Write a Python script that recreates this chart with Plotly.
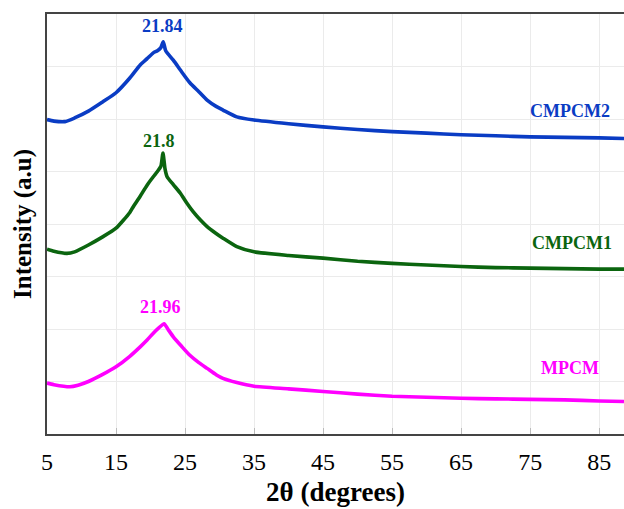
import plotly.graph_objects as go

# --- data ---
two_theta_cmpcm2 = [5, 6, 7.6, 9, 11, 13, 15, 17, 18.5, 19.5, 20.4, 21.0, 21.5, 21.84, 22.2, 23.3, 24.5,
                    25.7, 27, 28.2, 29.5, 30.5, 32.5, 35, 40, 45, 50, 55, 60, 65, 70, 75, 80, 85, 88.6]
int_cmpcm2 = [5.99, 5.96, 5.95, 6.02, 6.15, 6.32, 6.50, 6.78, 7.03, 7.15, 7.26, 7.30, 7.36, 7.47, 7.30, 7.12, 6.90,
              6.69, 6.52, 6.36, 6.24, 6.17, 6.04, 5.98, 5.91, 5.85, 5.80, 5.76, 5.73, 5.70, 5.68, 5.66, 5.65, 5.64, 5.63]

two_theta_cmpcm1 = [5, 6, 7.9, 9, 11, 13, 15, 17, 17.5, 18.5, 19.5, 20.4, 21.0, 21.5, 21.8, 22.1, 22.4, 23.3,
                    24.3, 25.2, 26.2, 27.2, 28.2, 29.5, 30.5, 32.5, 35, 40, 45, 50, 55, 60, 65, 70, 75, 80, 85, 88.6]
int_cmpcm1 = [3.52, 3.48, 3.44, 3.47, 3.60, 3.75, 3.92, 4.22, 4.33, 4.53, 4.74, 4.90, 5.00, 5.10, 5.35, 5.05, 4.90, 4.75,
              4.59, 4.41, 4.23, 4.08, 3.95, 3.82, 3.73, 3.57, 3.47, 3.40, 3.35, 3.29, 3.25, 3.22, 3.19, 3.17, 3.16, 3.15, 3.14, 3.14]

two_theta_mpcm = [5, 6, 8.3, 9.5, 11, 13, 15, 17, 18.5, 19.5, 20.4, 21.2, 21.96, 22.5, 23.3, 24.5, 25.7, 27,
                  28.2, 29.5, 30.5, 32.5, 35, 40, 45, 50, 55, 60, 65, 70, 75, 80, 85, 88.6]
int_mpcm = [0.97, 0.94, 0.90, 0.93, 1.00, 1.13, 1.28, 1.48, 1.66, 1.79, 1.92, 2.02, 2.10, 2.00, 1.85, 1.67, 1.50, 1.36,
            1.25, 1.13, 1.06, 0.98, 0.91, 0.86, 0.81, 0.76, 0.72, 0.70, 0.68, 0.67, 0.66, 0.65, 0.63, 0.62]

series_names = ["CMPCM2", "CMPCM1", "MPCM"]
series_colors = ["#0a3cc4", "#0b650f", "#ff00ff"]
peak_labels = ["21.84", "21.8", "21.96"]
peak_pos = [(21.8, 7.78), (21.16, 5.58), (21.5, 2.41)]
name_pos = [(80.8, 6.15), (81.1, 3.63), (80.8, 1.25)]
x_ticks = [5, 15, 25, 35, 45, 55, 65, 75, 85]

FONT = "Liberation Serif, Times New Roman, serif"

xs = [two_theta_cmpcm2, two_theta_cmpcm1, two_theta_mpcm]
ys = [int_cmpcm2, int_cmpcm1, int_mpcm]

fig = go.Figure()
for x, y, n, c in zip(xs, ys, series_names, series_colors):
    fig.add_trace(go.Scatter(x=x, y=y, mode="lines", name=n,
                             line=dict(color=c, width=3.6, shape="spline", smoothing=0.6),
                             showlegend=False))

for lab, (px, py), c in zip(peak_labels, peak_pos, series_colors):
    fig.add_annotation(x=px, y=py, text="<b>%s</b>" % lab, showarrow=False,
                       font=dict(family=FONT, size=18, color=c))
for n, (px, py), c in zip(series_names, name_pos, series_colors):
    fig.add_annotation(x=px, y=py, text="<b>%s</b>" % n, showarrow=False,
                       font=dict(family=FONT, size=18, color=c))

fig.update_layout(
    width=624, height=509,
    margin=dict(l=47, r=0, t=14, b=75),
    paper_bgcolor="white", plot_bgcolor="white",
    font=dict(family=FONT, color="black"),
)
fig.update_xaxes(
    range=[5, 88.6], tickvals=x_ticks, ticktext=[str(t) for t in x_ticks],
    showline=True, linecolor="#444444", linewidth=1.5, mirror=True,
    ticks="inside", ticklen=6, tickcolor="#bbbbbb",
    showgrid=True, gridcolor="#ebebeb", gridwidth=1, zeroline=False,
    tickfont=dict(family=FONT, size=24, color="black"), ticklabelstandoff=5,
    title=dict(text="<b>2θ (degrees)</b>", font=dict(family=FONT, size=27, color="black"), standoff=9),
)
fig.update_yaxes(
    range=[0, 8], dtick=1, showticklabels=False,
    showline=True, linecolor="#444444", linewidth=1.5, mirror=False,
    ticks="", showgrid=True, gridcolor="#ebebeb", gridwidth=1, zeroline=False,
    title=dict(text="<b>Intensity (a.u)</b>", font=dict(family=FONT, size=25, color="black"), standoff=7),
)

fig.write_html("out.html")
